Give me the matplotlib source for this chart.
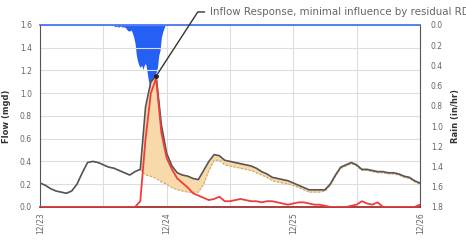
import matplotlib
matplotlib.use("Agg")
import matplotlib.pyplot as plt
import matplotlib.dates as mdates
import numpy as np
import pandas as pd

# hourly flow data, 12/23 00:00 -> 12/26 00:00
times = pd.date_range("2019-12-23 00:00", "2019-12-26 00:00", freq="h")

total_flow = [0.21, 0.19, 0.16, 0.14, 0.13, 0.12, 0.14, 0.20, 0.30, 0.39,
              0.40, 0.39, 0.37, 0.35, 0.34, 0.32, 0.30, 0.28, 0.31, 0.33,
              0.88, 1.10, 1.15, 0.72, 0.47, 0.36, 0.30, 0.28, 0.27, 0.25,
              0.24, 0.32, 0.40, 0.46, 0.45, 0.41, 0.40, 0.39, 0.38, 0.37,
              0.36, 0.34, 0.31, 0.29, 0.26, 0.25, 0.24, 0.23, 0.21, 0.19,
              0.17, 0.15, 0.15, 0.15, 0.15, 0.20, 0.28, 0.35, 0.37, 0.39,
              0.37, 0.33, 0.33, 0.32, 0.31, 0.31, 0.30, 0.30, 0.29, 0.27,
              0.26, 0.23, 0.21]

base_flow = [0.21, 0.19, 0.16, 0.14, 0.13, 0.12, 0.14, 0.20, 0.30, 0.39,
             0.40, 0.39, 0.37, 0.35, 0.34, 0.32, 0.30, 0.28, 0.31, 0.33,
             0.28, 0.27, 0.25, 0.22, 0.20, 0.17, 0.15, 0.14, 0.13, 0.13,
             0.13, 0.20, 0.32, 0.41, 0.41, 0.37, 0.36, 0.35, 0.34, 0.33,
             0.32, 0.30, 0.28, 0.26, 0.23, 0.22, 0.21, 0.20, 0.19, 0.17,
             0.15, 0.13, 0.13, 0.13, 0.14, 0.19, 0.27, 0.34, 0.36, 0.38,
             0.36, 0.32, 0.32, 0.31, 0.30, 0.30, 0.29, 0.29, 0.28, 0.26,
             0.25, 0.22, 0.20]

inflow = [0.0] * 19 + [
    0.05, 0.60, 1.00, 1.13, 0.65, 0.43, 0.33, 0.25, 0.21, 0.17,
    0.12, 0.10, 0.08, 0.06, 0.07, 0.09, 0.05, 0.05, 0.06, 0.07,
    0.06, 0.05, 0.05, 0.04, 0.05, 0.05, 0.04, 0.03, 0.02, 0.03,
    0.04, 0.04, 0.03, 0.02, 0.02, 0.01, 0.0, 0.0, 0.0, 0.0,
    0.01, 0.02, 0.05, 0.03, 0.02, 0.04, 0.0, 0.0, 0.0, 0.0,
    0.0, 0.0, 0.0, 0.02]

# rain, 15-minute steps during the storm (from 12/23 13:45)
rain = [0.0, 0.01, 0.02, 0.01, 0.02, 0.02, 0.01, 0.02, 0.02, 0.02,
        0.03, 0.05, 0.06, 0.06, 0.05, 0.08, 0.12, 0.18, 0.30, 0.36,
        0.40, 0.42, 0.40, 0.44, 0.40, 0.38, 0.45, 0.54, 0.60, 0.96,
        0.80, 0.52, 0.50, 0.47, 0.42, 0.30, 0.25, 0.12, 0.07, 0.03,
        0.0, 0.0]
rain_times = pd.date_range("2019-12-23 13:45", periods=len(rain), freq="15min")

peak_time = pd.Timestamp("2019-12-23 22:00")
peak_flow = 1.15

fig = plt.figure(figsize=(4.66, 2.44), dpi=100)
ax = fig.add_axes([0.086, 0.152, 0.815, 0.746])

ax.fill_between(times, base_flow, total_flow, color="#f7d9aa", lw=0, zorder=2)
ax.plot(times, base_flow, color="#c9a66b", lw=0.8, ls=(0, (2, 1.5)), zorder=3)
ax.plot(times, total_flow, color="#555555", lw=1.2, zorder=4)
ax.plot(times, inflow, color="#f03c3c", lw=1.3, zorder=5)

ax.set_ylim(0, 1.6)
ax.set_xlim(times[0], times[-1])
ax.set_yticks(np.arange(0, 1.61, 0.2))
ax.yaxis.set_major_formatter(matplotlib.ticker.FormatStrFormatter("%.1f"))
ax.xaxis.set_major_locator(mdates.DayLocator())
ax.xaxis.set_major_formatter(mdates.DateFormatter("%m/%d"))
ax.xaxis.set_minor_locator(mdates.HourLocator(byhour=[12]))
ax.grid(True, which="both", color="#dddddd", lw=0.8, zorder=0)
ax.tick_params(axis="x", labelrotation=90, labelsize=5.5, colors="#666666", length=0, pad=4)
ax.tick_params(axis="y", labelsize=5.5, colors="#666666", length=0, pad=6)
ax.tick_params(which="minor", length=0)
ax.set_ylabel("Flow (mgd)", fontsize=6, color="#333333", fontweight="bold", labelpad=6)

for side in ["left", "right"]:
    ax.spines[side].set_color("#555555")
ax.spines["bottom"].set_color("#9b1c1c")
ax.spines["bottom"].set_linewidth(1.2)
ax.spines["top"].set_color("#3a6cf0")
ax.spines["top"].set_linewidth(1.2)

ax2 = ax.twinx()
ax2.fill_between(rain_times, 0, rain, color="#2560f5", lw=0, zorder=1)
ax2.set_ylim(1.8, 0)
ax2.set_yticks(np.arange(0, 1.81, 0.2))
ax2.yaxis.set_major_formatter(matplotlib.ticker.FormatStrFormatter("%.1f"))
ax2.tick_params(axis="y", labelsize=5.5, colors="#666666", length=0, pad=8)
ax2.set_ylabel("Rain (in/hr)", fontsize=6, color="#333333", fontweight="bold", labelpad=6)
for s in ax2.spines.values():
    s.set_visible(False)

# keep flow lines above the rain fill
ax.set_zorder(ax2.get_zorder() + 1)
ax.patch.set_visible(False)

ax.plot([peak_time], [peak_flow], "o", color="#222222", ms=2.5, zorder=6)
ax.annotate("Inflow Response, minimal influence by residual RDI",
            xy=(peak_time, peak_flow), xycoords="data",
            xytext=(0.451, 0.951), textcoords="figure fraction",
            fontsize=7.4, color="#666666", ha="left", va="center",
            arrowprops=dict(arrowstyle="-", color="#333333", lw=1,
                            connectionstyle="angle,angleA=0,angleB=57,rad=0"),
            annotation_clip=False, zorder=7)

fig.savefig("out.png", dpi=100)
